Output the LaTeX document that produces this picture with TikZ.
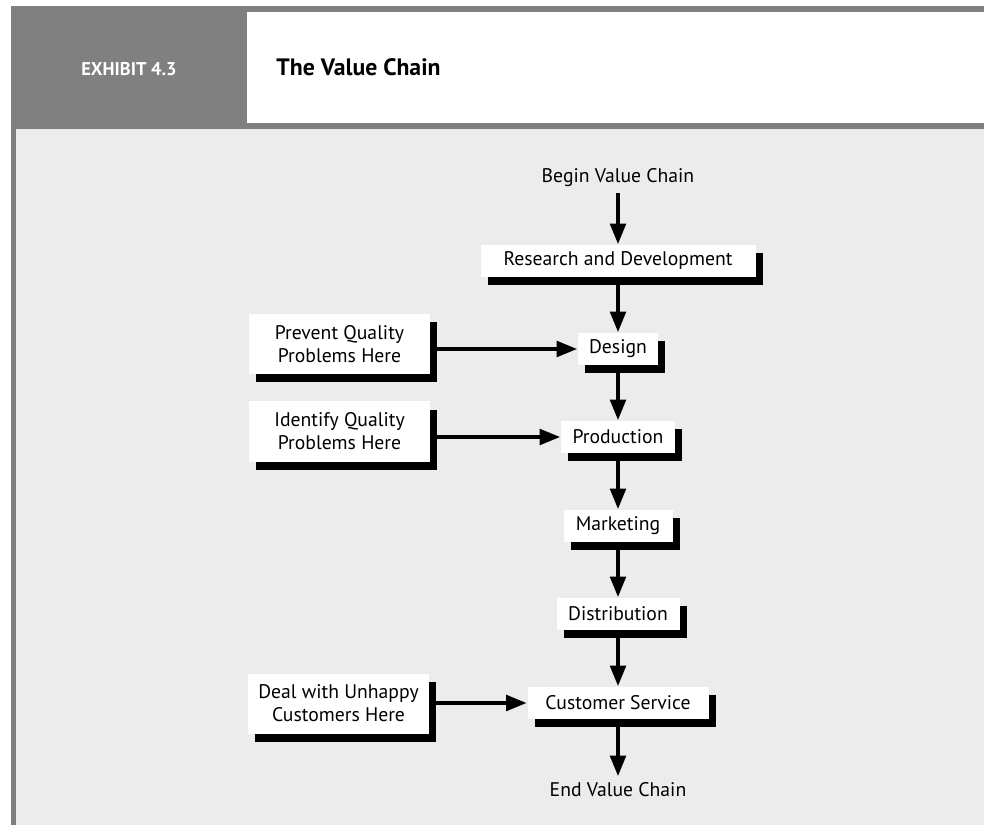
\documentclass[tikz,border=0pt]{standalone}
\usepackage{fontspec}
\setmainfont{PT Sans}
\usetikzlibrary{arrows.meta, shadows}

\definecolor{framegray}{RGB}{128, 128, 128}
\definecolor{panelgray}{RGB}{236, 236, 236}

\tikzset{
    stage/.style = {fill = white, minimum height = .64cm, inner sep = 0pt,
        general shadow = {fill = black, shadow xshift = .14cm, shadow yshift = -.16cm}},
    note/.style = {stage, minimum width = 3.62cm, minimum height = 1.2cm, align = center},
    flow/.style = {line width = 2.8pt, -{Triangle[length = .42cm, width = .3cm]}}
}

\begin{document}
\begin{tikzpicture}[font = \fontsize{11.2}{13}\selectfont]
    \useasboundingbox (0, 0) rectangle (19.68, 16.5);

    % frame and header
    \fill [framegray] (.22, 0) rectangle (19.68, 16.38);
    \fill [white] (4.94, 14.04) rectangle (19.68, 16.26);
    \fill [panelgray] (.32, 0) rectangle (19.68, 13.92);
    \node [anchor = base, text = white, font = \bfseries\fontsize{10.5}{12}\selectfont] (exhibit) at (2.58, 14.98) {EXHIBIT 4.3};
    \node [anchor = base west, inner sep = 0pt, font = \bfseries\fontsize{13.5}{16}\selectfont] (title) at (5.52, 14.98) {The Value Chain};

    % the chain
    \node (begin) at (12.36, 12.94) {Begin Value Chain};
    \node [stage, minimum width = 5.5cm] (rd) at (12.36, 11.28) {Research and Development};
    \node [stage, minimum width = 1.6cm] (design) at (12.36, 9.52) {Design};
    \node [stage, minimum width = 2.28cm] (prod) at (12.36, 7.76) {Production};
    \node [stage, minimum width = 2.18cm] (market) at (12.36, 5.98) {Marketing};
    \node [stage, minimum width = 2.46cm] (distrib) at (12.36, 4.22) {Distribution};
    \node [stage, minimum width = 3.62cm] (service) at (12.36, 2.44) {Customer Service};
    \node (end) at (12.36, .7) {End Value Chain};

    % side notes
    \node [note] (prevent) at (6.79, 9.61) {Prevent Quality\\Problems Here};
    \node [note] (identify) at (6.79, 7.87) {Identify Quality\\Problems Here};
    \node [note] (deal) at (6.77, 2.43) {Deal with Unhappy\\Customers Here};

    \draw [flow] (begin) -- (rd);
    \draw [flow] (rd) -- (design);
    \draw [flow] (design) -- (prod);
    \draw [flow] (prod) -- (market);
    \draw [flow] (market) -- (distrib);
    \draw [flow] (distrib) -- (service);
    \draw [flow] (service) -- (end);

    \draw [flow] (prevent.east |- design) -- (design);
    \draw [flow] (identify.east |- prod) -- (prod);
    \draw [flow] (deal.east |- service) -- (service);
\end{tikzpicture}
\end{document}
